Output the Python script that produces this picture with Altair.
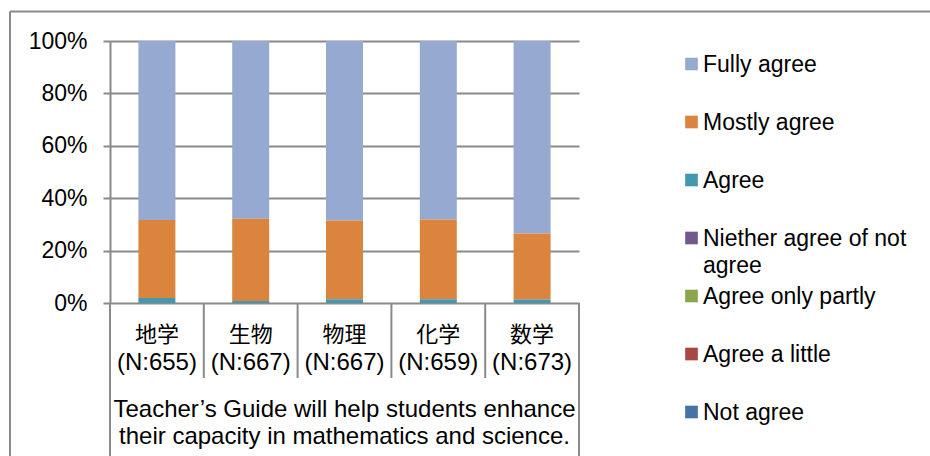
import altair as alt
import pandas as pd

# Subjects on the category axis and respondents per subject
subjects = ["地学", "生物", "物理", "化学", "数学"]
sample_sizes = [655, 667, 667, 659, 673]

# Response categories, top of the stack first
series = [
    "Fully agree",
    "Mostly agree",
    "Agree",
    "Niether agree of not agree",
    "Agree only partly",
    "Agree a little",
    "Not agree",
]
series_labels = [
    "Fully agree",
    "Mostly agree",
    "Agree",
    "Niether agree of not\nagree",
    "Agree only partly",
    "Agree a little",
    "Not agree",
]
colors = ["#95A9D1", "#DB843D", "#4198AF", "#71588F", "#89A54E", "#AA4643", "#4572A7"]

# Share of responses (%) per subject, in the order of `subjects`
fully_agree = [68.3, 67.8, 68.5, 68.1, 73.5]
mostly_agree = [29.8, 31.4, 30.1, 30.5, 25.2]
agree = [1.9, 0.8, 1.4, 1.4, 1.3]
neither = [0.0, 0.0, 0.0, 0.0, 0.0]
agree_partly = [0.0, 0.0, 0.0, 0.0, 0.0]
agree_little = [0.0, 0.0, 0.0, 0.0, 0.0]
not_agree = [0.0, 0.0, 0.0, 0.0, 0.0]

group_title = "Teacher\u2019s Guide will help students enhance\ntheir capacity in mathematics and science."

shares = [fully_agree, mostly_agree, agree, neither, agree_partly, agree_little, not_agree]
rows = []
for s_idx, (name, vals) in enumerate(zip(series, shares)):
    for subj, v in zip(subjects, vals):
        rows.append({"subject": subj, "series": name, "share": v,
                     "rank": len(series) - s_idx})
bars_df = pd.DataFrame(rows)

labels_df = pd.DataFrame({
    "subject": subjects,
    "n_label": [f"(N:{n})" for n in sample_sizes],
})

# Separators of the multi-level category axis
short_sep = pd.DataFrame({"subject": subjects[1:]})
edge_left = pd.DataFrame({"subject": subjects[:1]})
edge_right = pd.DataFrame({"subject": subjects[-1:]})

legend_df = pd.DataFrame({"series": series, "label": series_labels})

GRAY = "#8a8a8a"
FONT = "Liberation Sans"
CJK = "Noto Sans CJK JP"
PLOT_W, PLOT_H = 469, 262

x_band = alt.X("subject:N", sort=subjects,
               scale=alt.Scale(paddingInner=0, paddingOuter=0), axis=None)
color_scale = alt.Scale(domain=series, range=colors)

bars = alt.Chart(bars_df).mark_bar(size=37).encode(
    x=x_band,
    y=alt.Y("share:Q", stack="normalize",
            scale=alt.Scale(domain=[0, 1], nice=False),
            axis=alt.Axis(values=[0, 0.2, 0.4, 0.6, 0.8, 1.0], format=".0%",
                          title=None, grid=True, gridColor=GRAY, gridWidth=2,
                          domainColor=GRAY, domainWidth=2,
                          tickColor=GRAY, tickWidth=2, tickSize=7,
                          labelFont=FONT, labelFontSize=23, labelColor="black",
                          labelPadding=16)),
    color=alt.Color("series:N", scale=color_scale, legend=None),
    order=alt.Order("rank:Q", sort="ascending"),
)

sep_short = alt.Chart(short_sep).mark_rule(color=GRAY, strokeWidth=2).encode(
    x=alt.X("subject:N", sort=subjects, bandPosition=0,
            scale=alt.Scale(paddingInner=0, paddingOuter=0), axis=None),
    y=alt.value(PLOT_H), y2=alt.value(337),
)
sep_left = alt.Chart(edge_left).mark_rule(color=GRAY, strokeWidth=2).encode(
    x=alt.X("subject:N", sort=subjects, bandPosition=0,
            scale=alt.Scale(paddingInner=0, paddingOuter=0), axis=None),
    y=alt.value(PLOT_H), y2=alt.value(430),
)
sep_right = alt.Chart(edge_right).mark_rule(color=GRAY, strokeWidth=2).encode(
    x=alt.X("subject:N", sort=subjects, bandPosition=1,
            scale=alt.Scale(paddingInner=0, paddingOuter=0), axis=None),
    y=alt.value(PLOT_H), y2=alt.value(430),
)

subj_text = alt.Chart(labels_df).mark_text(
    font=CJK, fontSize=22, color="black", baseline="alphabetic", align="center"
).encode(x=x_band, y=alt.value(301), text="subject:N")

n_text = alt.Chart(labels_df).mark_text(
    font=FONT, fontSize=24, color="black", baseline="alphabetic", align="center"
).encode(x=x_band, y=alt.value(329), text="n_label:N")

title_text = alt.Chart(pd.DataFrame({"t": [group_title]})).mark_text(
    font=FONT, fontSize=24, color="black", baseline="alphabetic",
    align="center", lineBreak="\n", lineHeight=27
).encode(x=alt.value(PLOT_W / 2), y=alt.value(376), text="t:N")

legend_y = alt.Y("series:N", sort=series,
                 scale=alt.Scale(type="point", range=[23, 371], padding=0),
                 axis=None)
legend_sym = alt.Chart(legend_df).mark_square(size=160, opacity=1).encode(
    x=alt.value(581.5), y=legend_y,
    color=alt.Color("series:N", scale=color_scale, legend=None),
)
legend_txt = alt.Chart(legend_df).mark_text(
    font=FONT, fontSize=23, color="black", baseline="alphabetic",
    align="left", dy=8, lineBreak="\n", lineHeight=27
).encode(x=alt.value(593), y=legend_y, text="label:N")

frame_top = alt.Chart(pd.DataFrame({"k": [0]})).mark_rule(
    color=GRAY, strokeWidth=2
).encode(x=alt.value(-100), x2=alt.value(830), y=alt.value(-29.5))
frame_left = alt.Chart(pd.DataFrame({"k": [0]})).mark_rule(
    color=GRAY, strokeWidth=2
).encode(x=alt.value(-100), y=alt.value(-29.5), y2=alt.value(430))

chart = alt.layer(
    frame_top, frame_left, bars, sep_short, sep_left, sep_right,
    subj_text, n_text, title_text, legend_sym, legend_txt,
).resolve_scale(y="independent").properties(
    width=PLOT_W, height=PLOT_H,
    autosize=alt.AutoSizeParams(type="none"),
    padding={"left": 110, "top": 41, "right": 351, "bottom": 153},
    background="white",
).configure_view(stroke=None)

chart.save("out.html", embed_options={"renderer": "svg", "actions": False})
